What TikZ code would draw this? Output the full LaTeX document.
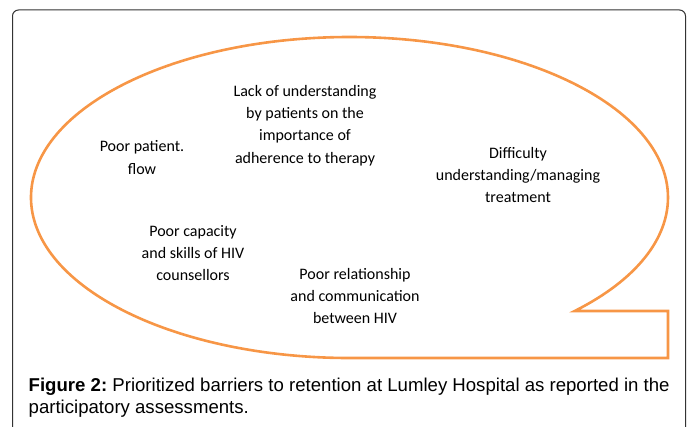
\documentclass[tikz,border=0pt]{standalone}
\usepackage{fontspec}
\setmainfont{Carlito}
\newfontfamily\capfont{Liberation Sans}
\definecolor{bubbleorange}{HTML}{F79646}
\definecolor{framegray}{HTML}{333333}
\frenchspacing
\tikzset{
  barrier/.style={align=center, inner sep=0pt, font=\fontsize{16}{22.3}\selectfont, text=black},
  bubble/.style={draw=bubbleorange, line width=2.6pt, line join=miter},
  frame/.style={draw=framegray, line width=1pt, rounded corners=6pt},
  caption/.style={anchor=base west, inner sep=0pt, align=left, font=\capfont\fontsize{18.6}{22}\selectfont}
}
\begin{document}
\begin{tikzpicture}[x=1pt,y=-1pt]
\useasboundingbox (0,0) rectangle (690,427);
% outer frame (cut at the bottom)
\draw[frame] (12.5,440) -- (12.5,10) -- (685.5,10) -- (685.5,440);
% speech bubble
\draw[bubble] (574.7,311) arc[start angle=45, end angle=-270, x radius=318.5, y radius=160.5]
  -- (668,358) -- (668,311) -- cycle;
% texts
\node[barrier] (lack) at (305,125.5) {Lack of understanding\\by patients on the\\importance of\\adherence to therapy};
\node[barrier] (flow) at (142,157.5) {Poor patient.\\flow};
\node[barrier] (diff) at (518,175) {Difficulty\\understanding/managing\\treatment};
\node[barrier] (cap) at (193,253) {Poor capacity\\and skills of HIV\\counsellors};
\node[barrier] (rel) at (355,296) {Poor relationship\\and communication\\between HIV};
\node[caption] (fig) at (28.5,413) {\frenchspacing\textbf{Figure 2:} Prioritized barriers to retention at Lumley Hospital as reported in the\\participatory assessments.};
\end{tikzpicture}
\end{document}
